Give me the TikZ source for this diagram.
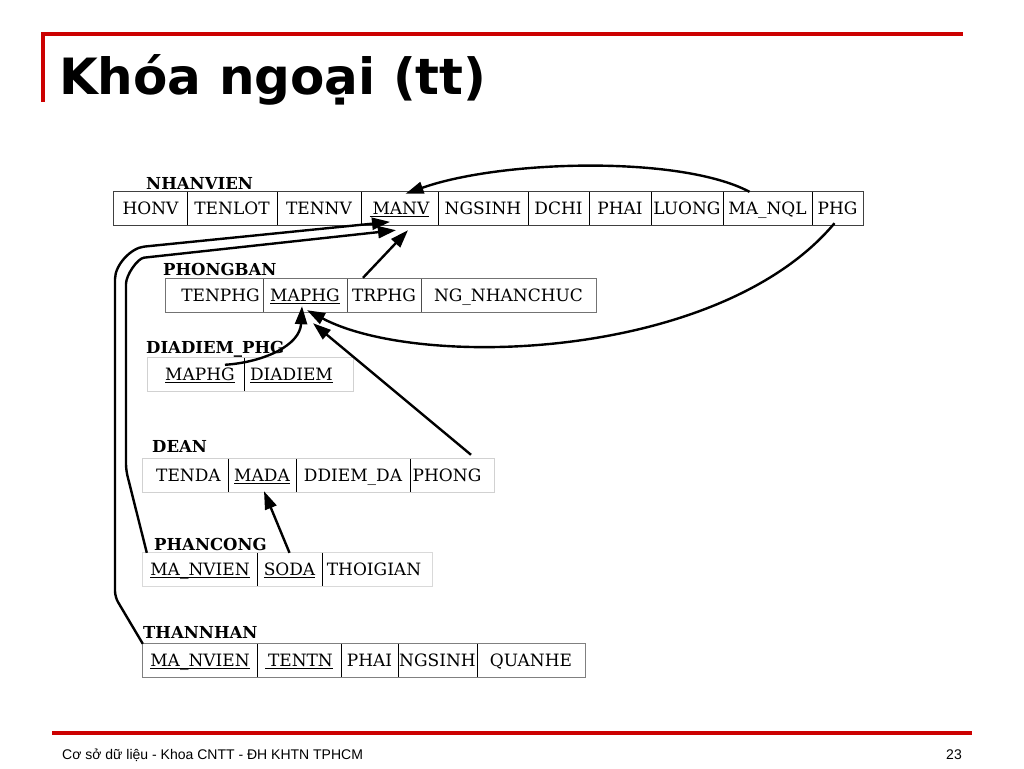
\documentclass[tikz,border=0pt]{standalone}
\usepackage{fontspec}
\setmainfont{DejaVu Serif}
\newfontfamily\titlefont{DejaVu Sans}
\newfontfamily\footfont{Liberation Sans}
\usetikzlibrary{arrows.meta,calc}
\definecolor{slidered}{RGB}{204,0,0}
\newcommand\ul[1]{\underline{\smash{#1}}}
\newcommand\cellbox[6]{\node[cellnode, minimum width={(#3-#2)*1pt}, minimum height={(#5-#4)*1pt}] (#1) at ({(#2+#3)/2},{(#4+#5)/2}) {#6};}
\tikzset{
  cellnode/.style={inner sep=0pt, text height=12.4pt, text depth=0pt, font=\fontsize{17}{19}\selectfont},
  tlabel/.style={anchor=base west, inner sep=0pt, font=\bfseries\fontsize{16.5}{18}\selectfont},
  tborder/.style={draw=#1, line width=1.1pt},
  divline/.style={draw=#1, line width=1.1pt},
  fk/.style={line width=2.4pt, -{Triangle[length=18pt,width=12pt]}},
  redrule/.style={draw=slidered, line width=3.3pt},
}
\begin{document}
\begin{tikzpicture}[x=1pt,y=-1pt]
\useasboundingbox (0,0) rectangle (1024,768);
\fill[white] (0,0) rectangle (1024,768);
% slide frame
\draw[redrule] (41.4,34) -- (963,34);
\draw[redrule] (43,32.4) -- (43,102);
\draw[redrule] (52,733) -- (972,733);
\node[anchor=base west, inner sep=0pt, font=\titlefont\bfseries\fontsize{50}{56}\selectfont] (title) at (59,94) {Khóa ngoại (tt)};
\node[anchor=base west, inner sep=0pt, font=\footfont\fontsize{14}{16}\selectfont] (foot) at (62,759) {Cơ sở dữ liệu - Khoa CNTT - ĐH KHTN TPHCM};
\node[anchor=base east, inner sep=0pt, font=\footfont\fontsize{14}{16}\selectfont] (pageno) at (962,759) {23};

% NHANVIEN
\node[tlabel] (l-nv) at (146,189) {NHANVIEN};
\cellbox{nv-honv}{114}{187}{192}{225}{HONV}
\cellbox{nv-tenlot}{187}{277}{192}{225}{TENLOT}
\cellbox{nv-tennv}{277}{361}{192}{225}{TENNV}
\cellbox{nv-manv}{361}{438}{192}{225}{\ul{\,MANV}}
\cellbox{nv-ngsinh}{438}{528}{192}{225}{NGSINH}
\cellbox{nv-dchi}{528}{589}{192}{225}{DCHI}
\cellbox{nv-phai}{589}{651}{192}{225}{PHAI}
\cellbox{nv-luong}{651}{723}{192}{225}{LUONG}
\cellbox{nv-manql}{723}{812}{192}{225}{MA\_NQL}
\cellbox{nv-phg}{812}{863}{192}{225}{PHG}
\draw[tborder=black!75] (nv-honv.north west) rectangle (nv-phg.south east);
\foreach \c in {honv,tenlot,tennv,manv,ngsinh,dchi,phai,luong,manql}
  \draw[divline=black] (nv-\c.north east) -- (nv-\c.south east);

% PHONGBAN
\node[tlabel] (l-pb) at (163,275.5) {PHONGBAN};
\cellbox{pb-tenphg}{166}{263}{279}{312}{\hspace*{12pt}TENPHG}
\cellbox{pb-maphg}{263}{347}{279}{312}{\ul{MAPHG}}
\cellbox{pb-trphg}{347}{421}{279}{312}{TRPHG}
\cellbox{pb-ngnc}{421}{596}{279}{312}{NG\_NHANCHUC}
\draw[tborder=black!55] (pb-tenphg.north west) rectangle (pb-ngnc.south east);
\foreach \c in {tenphg,maphg,trphg}
  \draw[divline=black!70] (pb-\c.north east) -- (pb-\c.south east);

% DIADIEM_PHG
\node[tlabel] (l-dd) at (146,353) {DIADIEM\_PHG};
\cellbox{dd-maphg}{148}{244}{358}{391}{\hspace*{8pt}\ul{MAPHG}}
\cellbox{dd-diadiem}{244}{353}{358}{391}{\ul{DIADIEM}\hspace*{14pt}}
\draw[tborder=black!18] (dd-maphg.north west) rectangle (dd-diadiem.south east);
\draw[divline=black] (dd-maphg.north east) -- (dd-maphg.south east);

% DEAN
\node[tlabel] (l-de) at (152,452) {DEAN};
\cellbox{de-tenda}{143}{228}{459}{492}{\hspace*{6pt}TENDA}
\cellbox{de-mada}{228}{296}{459}{492}{\ul{MADA}}
\cellbox{de-ddiemda}{296}{410}{459}{492}{DDIEM\_DA}
\cellbox{de-phong}{410}{494}{459}{492}{PHONG\hspace*{10pt}}
\draw[tborder=black!18] (de-tenda.north west) rectangle (de-phong.south east);
\foreach \c in {tenda,mada,ddiemda}
  \draw[divline=black] (de-\c.north east) -- (de-\c.south east);

% PHANCONG
\node[tlabel] (l-pc) at (154,550) {PHANCONG};
\cellbox{pc-manvien}{143}{257}{553}{586}{\ul{MA\_NVIEN}}
\cellbox{pc-soda}{257}{322}{553}{586}{\ul{SODA}}
\cellbox{pc-thoigian}{322}{432}{553}{586}{THOIGIAN\hspace*{6pt}}
\draw[tborder=black!15] (pc-manvien.north west) rectangle (pc-thoigian.south east);
\foreach \c in {manvien,soda}
  \draw[divline=black] (pc-\c.north east) -- (pc-\c.south east);

% THANNHAN
\node[tlabel] (l-th) at (143,638) {THANNHAN};
\cellbox{th-manvien}{143}{257}{644}{677}{\ul{MA\_NVIEN}}
\cellbox{th-tentn}{257}{341}{644}{677}{\ul{\,TENTN}}
\cellbox{th-phai}{341}{398}{644}{677}{PHAI}
\cellbox{th-ngsinh}{398}{477}{644}{677}{NGSINH}
\cellbox{th-quanhe}{477}{585}{644}{677}{QUANHE}
\draw[tborder=black!50] (th-manvien.north west) rectangle (th-quanhe.south east);
\foreach \c in {manvien,tentn,phai,ngsinh}
  \draw[divline=black] (th-\c.north east) -- (th-\c.south east);

% foreign keys
\draw[fk] ([xshift=-18pt]nv-manql.north) .. controls (680,155) and (500,160) .. ([xshift=6pt,yshift=-2pt]nv-manv.north);
\draw[fk] ([xshift=-3pt,yshift=2pt]nv-phg.south) .. controls (720,360) and (420,370) .. ([xshift=2pt,yshift=2pt]pb-maphg.south);
\draw[fk] ([xshift=29pt,yshift=-7pt]dd-maphg.north) .. controls (265,362) and (300,345) .. ([xshift=-3pt,yshift=6pt]pb-maphg.south);
\draw[fk] ([xshift=19pt,yshift=4pt]de-phong.north) -- ([xshift=8pt,yshift=-11pt]pb-maphg.south);
\draw[fk] ([xshift=-21pt,yshift=1pt]pb-trphg.north) -- ([xshift=8.5pt,yshift=-5pt]nv-manv.south);
\draw[fk] (pc-soda.north) -- ([xshift=2pt,yshift=1pt]de-mada.south);
\draw[fk, rounded corners=6pt] ([xshift=4pt]pc-manvien.north west) -- (126,470) -- (126,290) .. controls (126,275) and (137.5,258.4) .. (150,257) -- ([xshift=-3.5pt,yshift=-5pt]nv-manv.south);
\draw[fk, rounded corners=6pt] (th-manvien.north west) -- (115,597) -- (115,285) .. controls (115,265) and (130.8,248) .. (150,246) -- ([xshift=-9.5pt,yshift=3.3pt]nv-manv.south);
\end{tikzpicture}
\end{document}
